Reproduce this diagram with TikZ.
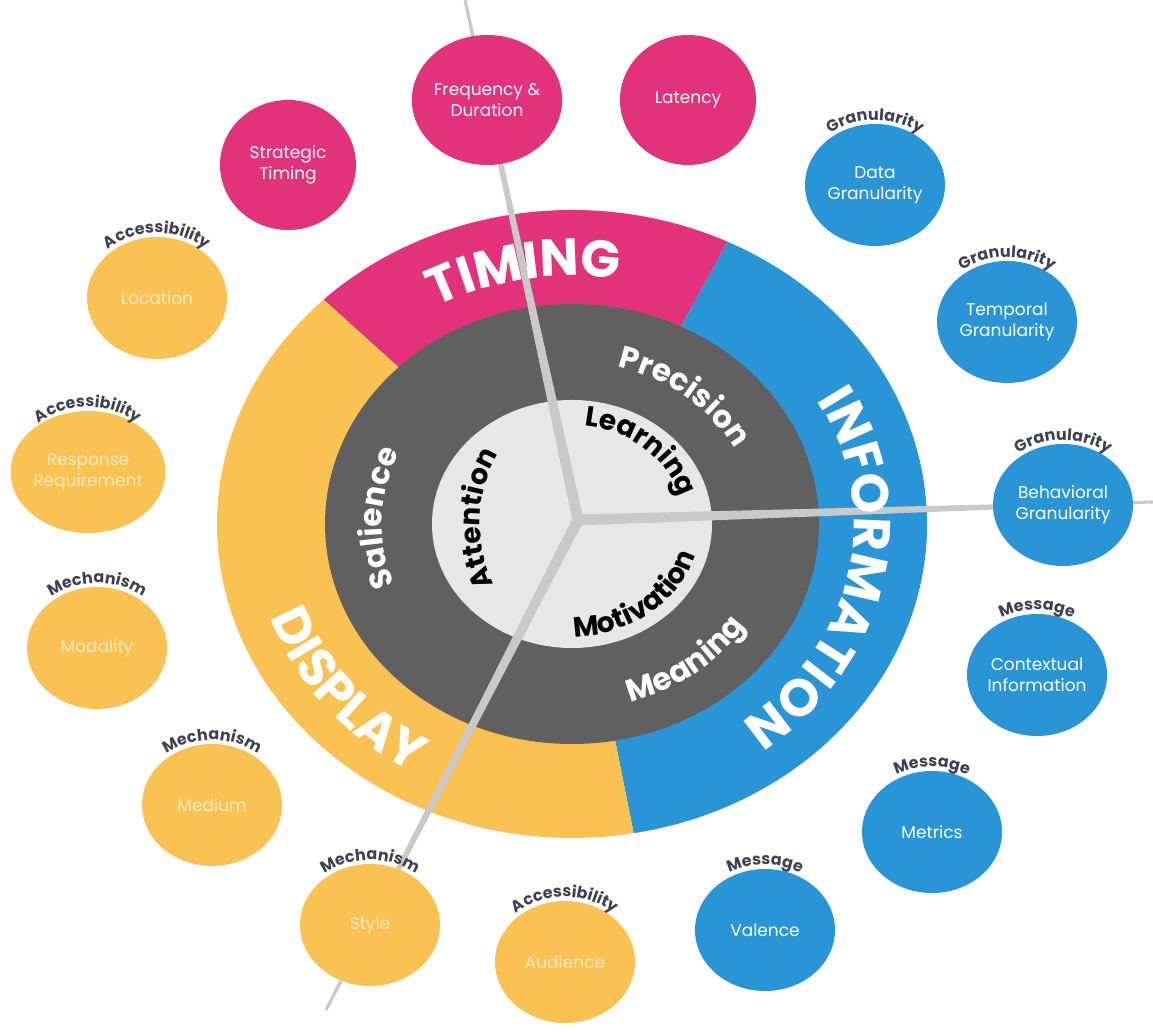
\documentclass[tikz,border=0pt]{standalone}
\usepackage{fontspec}
\setmainfont{Poppins}
\newfontfamily\widefont[LetterSpace=6]{Poppins}
\usetikzlibrary{shapes.geometric,decorations.text,calc}

\definecolor{timingc}{HTML}{E2327B}
\definecolor{infoc}{HTML}{2A95D6}
\definecolor{displayc}{HTML}{F9C253}
\definecolor{ringc}{HTML}{606060}
\definecolor{corec}{HTML}{E7E7E7}
\definecolor{spokec}{HTML}{C9C9C9}
\definecolor{groupc}{HTML}{3F4150}
\definecolor{palec}{HTML}{FCE9C2}

\newcommand\outerfont{\widefont\bfseries\fontsize{52}{52}\selectfont}
\newcommand\midfont{\widefont\bfseries\fontsize{31}{31}\selectfont}
\newcommand\corefont{\widefont\bfseries\fontsize{28}{28}\selectfont}
\newcommand\groupfont{\widefont\bfseries\fontsize{16}{16}\selectfont}

\newcommand\spoke[2]{\fill[spokec] ($(#1)!5.5pt!90:(#2)$) -- ($(#2)!1.5pt!-90:(#1)$)
    -- ($(#2)!1.5pt!90:(#1)$) -- ($(#1)!5.5pt!-90:(#2)$) -- cycle;}
\newcommand\grouplabel[2]{\path[shift={(#1.center)}, arctext={groupc}{|\groupfont|#2}]
    (165:74pt and 65pt) arc[start angle=165, end angle=15, x radius=74pt, y radius=65pt];}

\begin{document}
\begin{tikzpicture}[x=1pt, y=1pt,
    leaf/.style={ellipse, minimum width=140pt, minimum height=122pt, inner sep=0pt, align=center,
        font=\fontsize{17}{21}\selectfont},
    timingleaf/.style={leaf, fill=timingc, minimum width=136pt, minimum height=130pt, text=white},
    infoleaf/.style={leaf, fill=infoc, text=white},
    displayleaf/.style={leaf, fill=displayc, text=palec},
    arctext/.style 2 args={decorate, decoration={text along path, text align=center,
        text color=#1, text={#2}}}]

\useasboundingbox (0,0) rectangle (1153,1032);
\coordinate (C) at (572,508);

% rings
\fill[timingc] (C) -- ++(64:355pt and 314pt) arc[start angle=64, end angle=134.4, x radius=355pt, y radius=314pt] -- cycle;
\fill[infoc] (C) -- ++(-80:355pt and 314pt) arc[start angle=-80, end angle=64, x radius=355pt, y radius=314pt] -- cycle;
\fill[displayc] (C) -- ++(134.4:355pt and 314pt) arc[start angle=134.4, end angle=280, x radius=355pt, y radius=314pt] -- cycle;
\fill[ringc] (C) ellipse[x radius=247pt, y radius=220pt];
\fill[corec] (C) ellipse[x radius=140pt, y radius=124pt];

% spokes
\coordinate (hub) at (578,512);
\coordinate (topend) at (465,1032);
\coordinate (rightend) at (1153,530);
\coordinate (lowend) at (326,22);
\spoke{hub}{topend}
\spoke{hub}{rightend}
\spoke{hub}{lowend}

\path[shift={(C)}, arctext={white}{|\outerfont|TIMING}]
    (140:282pt and 248pt) arc[start angle=140, end angle=60, x radius=282pt, y radius=248pt];
\path[shift={(C)}, arctext={white}{|\outerfont|INFORMATION}]
    (62:282pt and 248pt) arc[start angle=62, end angle=-84, x radius=282pt, y radius=248pt];
\path[shift={(C)}, arctext={white}{|\outerfont|DISPLAY}]
    (164:320pt and 286pt) arc[start angle=164, end angle=272, x radius=320pt, y radius=286pt];

\path[shift={(C)}, arctext={white}{|\midfont|Precision}]
    (100:183pt and 162pt) arc[start angle=100, end angle=0, x radius=183pt, y radius=162pt];
\path[shift={(C)}, arctext={white}{|\midfont|Salience}]
    (228:190pt and 168pt) arc[start angle=228, end angle=128, x radius=190pt, y radius=168pt];
\path[shift={(C)}, arctext={white}{|\midfont|Meaning}]
    (-102:207pt and 186pt) arc[start angle=-102, end angle=-2, x radius=207pt, y radius=186pt];

\path[shift={(C)}, arctext={black}{|\corefont|Learning}]
    (108:112pt and 99pt) arc[start angle=108, end angle=-12, x radius=112pt, y radius=99pt];
\path[shift={(C)}, arctext={black}{|\corefont|Attention}]
    (237:92pt and 115pt) arc[start angle=237, end angle=117, x radius=92pt, y radius=115pt];
\path[shift={(C)}, arctext={black}{|\corefont|Motivation}]
    (-112:128pt and 113pt) arc[start angle=-112, end angle=10, x radius=128pt, y radius=113pt];

% timing
\node[timingleaf] (strat) at (288,867) {Strategic\\Timing};
\node[timingleaf] (freq) at (487,932) {Frequency \&\\Duration};
\node[timingleaf] (lat) at (688,932) {Latency};
% information
\node[infoleaf] (datag) at (875,847) {Data\\Granularity};
\node[infoleaf] (tempg) at (1007,710) {Temporal\\Granularity};
\node[infoleaf] (behg) at (1063,527) {Behavioral\\Granularity};
\node[infoleaf] (context) at (1037,357) {Contextual\\Information};
\node[infoleaf] (metrics) at (932,200) {Metrics};
\node[infoleaf] (valence) at (765,102) {Valence};
% display
\node[displayleaf] (audience) at (565,70) {Audience};
\node[displayleaf] (style) at (370,107) {Style};
\node[displayleaf] (medium) at (212,227) {Medium};
\node[displayleaf] (modality) at (97,384) {Modality};
\node[displayleaf] (response) at (88,560) {Response\\Requirement};
\node[displayleaf] (location) at (157,734) {Location};

\grouplabel{datag}{Granularity}
\grouplabel{tempg}{Granularity}
\grouplabel{behg}{Granularity}
\grouplabel{context}{Message}
\grouplabel{metrics}{Message}
\grouplabel{valence}{Message}
\grouplabel{audience}{Accessibility}
\grouplabel{style}{Mechanism}
\grouplabel{medium}{Mechanism}
\grouplabel{modality}{Mechanism}
\grouplabel{response}{Accessibility}
\grouplabel{location}{Accessibility}

\end{tikzpicture}
\end{document}
